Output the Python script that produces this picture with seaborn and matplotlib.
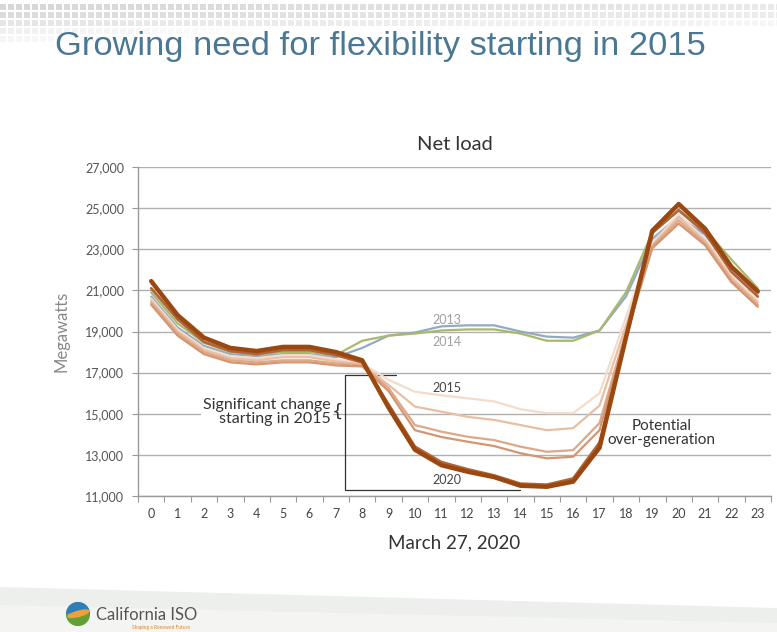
import numpy as np
import pandas as pd
import matplotlib
matplotlib.use("Agg")
import matplotlib.pyplot as plt
import matplotlib.patches as mpatches
import seaborn as sns
from matplotlib.ticker import FuncFormatter

# ---------------- data ----------------
hours = list(range(24))
years = ["2013", "2014", "2015", "2016", "2017", "2018", "2019", "2020"]
load_2013 = [20700, 19200, 18300, 17900, 17800, 17900, 17900, 17750, 18200, 18800, 18950, 19250,
             19300, 19300, 19000, 18750, 18700, 19050, 20700, 23500, 24600, 23700, 22100, 20850]
load_2014 = [20900, 19400, 18450, 18000, 17900, 18000, 18000, 17850, 18550, 18800, 18900, 19050,
             19100, 19100, 18900, 18550, 18550, 19050, 20900, 23800, 24900, 23950, 22500, 21100]
load_2015 = [20600, 19100, 18200, 17800, 17700, 17850, 17850, 17650, 17450, 16650, 16070, 15900,
             15750, 15600, 15220, 15030, 15030, 16000, 19700, 23300, 24700, 23500, 21700, 20500]
load_2016 = [20500, 19000, 18100, 17700, 17600, 17750, 17750, 17550, 17400, 16400, 15350, 15100,
             14850, 14700, 14450, 14200, 14300, 15400, 19300, 23200, 24550, 23400, 21600, 20400]
load_2017 = [20400, 18900, 18000, 17600, 17500, 17600, 17600, 17450, 17350, 16250, 14450, 14130,
             13880, 13720, 13400, 13150, 13230, 14550, 19000, 23150, 24400, 23300, 21500, 20300]
load_2018 = [20300, 18800, 17900, 17500, 17400, 17500, 17500, 17350, 17300, 16100, 14200, 13870,
             13640, 13430, 13080, 12830, 12910, 14200, 18800, 23050, 24250, 23200, 21400, 20200]
load_2019 = [21100, 19600, 18500, 18050, 17900, 18100, 18100, 17850, 17500, 15450, 13400, 12650,
             12300, 12000, 11600, 11550, 11850, 13600, 18700, 23800, 24900, 23800, 21900, 20700]
load_2020 = [21450, 19800, 18700, 18200, 18050, 18250, 18250, 18000, 17600, 15300, 13250, 12500,
             12180, 11920, 11500, 11450, 11700, 13350, 18700, 23900, 25200, 24000, 22150, 20950]
series = [load_2013, load_2014, load_2015, load_2016, load_2017, load_2018, load_2019, load_2020]
y_ticks = [11000, 13000, 15000, 17000, 19000, 21000, 23000, 25000, 27000]

colors = {"2013": "#93aac4", "2014": "#a9b86c", "2015": "#f2dccb", "2016": "#e9bea2",
          "2017": "#dfa788", "2018": "#d39673", "2019": "#b0653a", "2020": "#9a4810"}
widths = {"2013": 1.6, "2014": 1.6, "2015": 1.6, "2016": 1.6, "2017": 1.6, "2018": 1.6,
          "2019": 2.0, "2020": 3.2}

df = pd.DataFrame({
    "hour": hours * len(years),
    "load": [v for s in series for v in s],
    "year": [y for y in years for _ in hours],
})

# ---------------- figure ----------------
sns.set_theme(style="white")
plt.rcParams["font.family"] = ["Lato", "DejaVu Sans"]
W, H = 777, 632
fig = plt.figure(figsize=(W / 100, H / 100), dpi=100)
fig.patch.set_facecolor("white")

# header pattern (decorative)
hdr = fig.add_axes([0, 1 - 60 / H, 1, 60 / H])
hdr.set_axis_off()
img = np.ones((60, W, 4))
img[..., :3] = 0.72
img[..., 3] = 0
xs = np.arange(W)
sq = (xs % 8) < 6
rows = [(4, 10, 0.55, 0.30, 1.0), (12, 18, 0.50, 0.25, 1.0), (20, 26, 0.35, 0.12, 1.0),
        (28, 34, 0.22, 0.0, 0.35), (36, 42, 0.12, 0.0, 0.25)]
for y0, y1, a0, a1, frac in rows:
    alpha = np.clip(a0 + (a1 - a0) * xs / (W * frac), 0, 1) * sq
    img[y0:y1, :, 3] = alpha[None, :]
hdr.imshow(img, aspect="auto", extent=[0, W, 60, 0], interpolation="nearest")
hdr.set_xlim(0, W)
hdr.set_ylim(60, 0)

fig.text(55 / W, 1 - 46 / H, "Growing need for flexibility starting in 2015",
         family=["Liberation Sans", "DejaVu Sans"],
         fontsize=24.8, color="#4a7893", ha="left", va="center")

# footer swoosh (decorative)
ftr = fig.add_axes([0, 0, 1, 60 / H])
ftr.set_axis_off()
fx = np.linspace(0, 1, 200)
ftr.fill_between(fx, 0, 0.75 - 0.35 * fx, color="#e9ebe8", alpha=0.8, lw=0)
ftr.fill_between(fx, 0, 0.45 - 0.30 * fx, color="#f4f4f2", alpha=1.0, lw=0)
ftr.set_xlim(0, 1)
ftr.set_ylim(0, 1)

logo = fig.add_axes([66 / W, 1 - 626 / H, 24 / W, 24 / H])
logo.set_axis_off()
logo.set_aspect("equal")
logo.add_patch(mpatches.Wedge((0, 0), 1, 0, 180, color="#2f7fb5"))
logo.add_patch(mpatches.Wedge((0, 0), 1, 180, 360, color="#62a035"))
logo.add_patch(mpatches.Ellipse((0.05, 0.02), 1.9, 0.45, angle=15, color="#f0a03a"))
logo.set_xlim(-1.05, 1.05)
logo.set_ylim(-1.05, 1.05)
fig.text(96 / W, 1 - 615 / H, "California ISO", fontsize=12, color="#555555",
         ha="left", va="center")
fig.text(132 / W, 1 - 628 / H, "Shaping a Renewed Future", fontsize=3.5, color="#d9822b",
         ha="left", va="center")

# ---------------- chart ----------------
ax = fig.add_axes([138 / W, 1 - 496 / H, 633 / W, 329 / H])
for yr in years:
    sub = df[df["year"] == yr]
    sns.lineplot(data=sub, x="hour", y="load", ax=ax, color=colors[yr],
                 linewidth=widths[yr], legend=False, zorder=3 + years.index(yr))

ax.set_xlim(-0.5, 23.5)
ax.set_ylim(11000, 27000)
ax.set_yticks(y_ticks)
ax.yaxis.set_major_formatter(FuncFormatter(lambda v, p: f"{int(v):,}"))
ax.set_xticks(hours)
ax.set_xticks(np.arange(-0.5, 24, 1), minor=True)
ax.tick_params(axis="x", which="major", length=0, pad=9, labelsize=9, labelcolor="#444444")
ax.tick_params(axis="x", which="minor", length=4, width=0.8, color="#999999", bottom=True)
ax.tick_params(axis="y", which="major", length=4, width=0.8, color="#999999", left=True,
               pad=6, labelsize=9, labelcolor="#555555")
ax.grid(axis="y", color="#b0b0b0", linewidth=1)
ax.grid(axis="x", visible=False)
for s in ["top", "right"]:
    ax.spines[s].set_visible(False)
for s in ["left", "bottom"]:
    ax.spines[s].set_color("#999999")
    ax.spines[s].set_linewidth(1)
ax.set_xlabel("March 27, 2020", fontsize=13.5, color="#333333", labelpad=10)
ax.set_ylabel("Megawatts", fontsize=12, color="#888888", labelpad=11)
ax.set_title("Net load", fontsize=14.5, color="#333333", pad=12)

# labels on lines
ax.text(11.2, 19560, "2013", fontsize=9, color="#a0a0a0", ha="center", va="center", zorder=20)
ax.text(11.2, 18490, "2014", fontsize=9, color="#a0a0a0", ha="center", va="center", zorder=20)
ax.text(11.2, 16250, "2015", fontsize=9, color="#444444", ha="center", va="center", zorder=20)
ax.text(11.2, 11780, "2020", fontsize=9, color="#444444", ha="center", va="center", zorder=20)

# bracket annotation
bx0, bx1, bx2 = 7.36, 9.3, 14.0
by_top, by_bot = 16880, 11300
ax.plot([bx1, bx0, bx0, bx2], [by_top, by_top, by_bot, by_bot], color="#333333",
        linewidth=0.9, zorder=2)
ax.text(6.8, 15080, "Significant change\nstarting in 2015", fontsize=11.5, color="#333333",
        ha="right", va="center", linespacing=1.0, zorder=21,
        bbox=dict(facecolor="white", edgecolor="none", pad=1.5))
ax.text(7.05, 15080, "{", fontsize=13, color="#333333", ha="center", va="center", zorder=21,
        family="DejaVu Sans")
ax.text(19.35, 14060, "Potential\nover-generation", fontsize=11, color="#333333",
        ha="center", va="center", linespacing=1.0, zorder=21)

fig.savefig("out.png", dpi=100, facecolor="white")
